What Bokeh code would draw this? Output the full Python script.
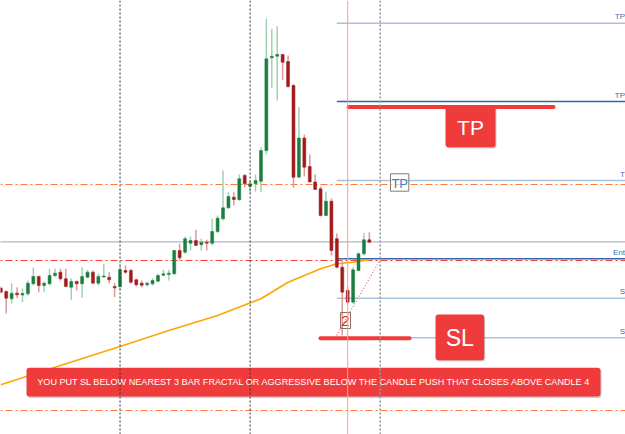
from bokeh.plotting import figure
from bokeh.models import Range1d, Span, ColumnDataSource
from bokeh.core.properties import value
from bokeh.embed import file_html
from bokeh.resources import INLINE

# ---------------- data (price units, bar index on x) ----------------
opens  = [146.3, 143.0, 135.7, 141.3, 139.5, 140.7, 150.7, 158.0, 149.0, 150.7,
          159.0, 162.3, 155.7, 147.3, 153.0, 150.7, 157.3, 162.3, 151.3, 157.5,
          157.3, 148.0, 148.0, 164.0, 164.0, 154.7, 151.3, 149.7, 150.7, 153.3,
          159.3, 160.0, 160.7, 184.0, 182.3, 191.3, 194.0, 189.7, 192.3, 191.3,
          203.0, 215.7, 226.7, 237.3, 234.7, 259.0, 248.0, 250.7, 253.3, 284.0,
          376.7, 378.3, 380.0, 373.0, 349.0, 257.3, 296.5, 268.0, 252.5, 245.7,
          219.0, 233.3, 195.7, 167.3, 144.0, 132.3, 164.0, 180.7, 194.7]
highs  = [148.0, 144.0, 151.3, 147.3, 146.0, 154.0, 167.0, 159.0, 153.0, 165.7,
          165.7, 165.7, 165.7, 156.0, 154.0, 167.3, 164.7, 164.0, 160.7, 170.7,
          162.3, 151.3, 169.0, 169.0, 165.7, 155.7, 154.0, 153.0, 156.3, 160.7,
          164.7, 164.7, 184.7, 190.7, 198.0, 198.0, 204.7, 195.7, 194.7, 215.7,
          219.0, 264.0, 242.3, 242.3, 260.0, 260.7, 254.7, 260.0, 287.3, 415.7,
          405.7, 408.3, 380.0, 379.0, 350.7, 327.3, 300.0, 280.0, 260.0, 248.0,
          243.0, 236.0, 201.0, 176.0, 147.3, 167.3, 182.3, 201.3, 202.3]
lows   = [141.0, 121.0, 131.0, 136.3, 132.3, 139.0, 149.0, 142.3, 142.3, 149.0,
          157.3, 154.0, 147.3, 134.7, 144.0, 136.7, 156.3, 150.7, 149.0, 156.7,
          151.3, 137.3, 144.7, 160.7, 150.7, 148.0, 147.3, 148.0, 149.0, 152.3,
          158.0, 154.0, 160.0, 174.0, 180.7, 184.0, 189.0, 184.0, 184.0, 189.0,
          201.3, 214.0, 225.7, 229.0, 234.0, 247.3, 241.3, 243.0, 242.3, 280.0,
          346.7, 334.0, 354.7, 346.7, 246.7, 257.3, 258.0, 252.3, 245.0, 218.0,
          219.0, 179.0, 166.0, 99.0, 131.0, 130.7, 163.3, 179.0, 192.3]
closes = [142.3, 136.3, 141.3, 139.7, 141.0, 151.3, 158.0, 149.0, 151.3, 159.0,
          161.3, 155.7, 148.0, 153.0, 150.7, 158.0, 162.3, 151.3, 158.0, 158.5,
          154.7, 146.7, 164.7, 162.3, 152.3, 149.7, 149.3, 151.3, 154.0, 159.0,
          160.7, 161.3, 184.0, 176.7, 195.7, 194.0, 189.0, 192.3, 191.3, 203.0,
          216.3, 226.7, 238.0, 235.0, 255.7, 250.7, 250.7, 254.0, 284.0, 375.7,
          378.3, 380.0, 372.3, 348.0, 257.3, 296.5, 267.3, 252.5, 245.0, 219.0,
          233.3, 184.0, 167.3, 142.3, 132.3, 164.7, 180.7, 194.7, 192.3]

# moving average, read at a few bars
ema_bars   = [0, 10, 22, 31, 40, 48, 53, 56, 59, 62, 65, 68]
ema_values = [49.7, 67.3, 88.0, 104.0, 119.0, 135.7, 152.3, 159.0, 165.7, 170.7, 172.3, 174.7]

# levels
tp_levels    = [411.3, 333.0, 254.0]
tp_labels    = ["TP", "TP", "T"]
entry_level  = 175.7
entry_label  = "Ent"
sl_levels    = [136.3, 96.7]
sl_labels    = ["S", "S"]
orange_levels = [250.0, 24.0]
red_level    = 174.0
gray_level   = 192.7
session_bars = [22, 46]
current_bar  = 64
future_bar   = 70
trade_start  = 62

note = "YOU PUT SL BELOW NEAREST 3 BAR FRACTAL OR AGGRESSIVE BELOW THE CANDLE PUSH THAT CLOSES ABOVE CANDLE 4"

# ---------------- helpers (pixel layout -> data) ----------------
W, H = 625, 434
X0, DX = 0.3, 5.42
def bx(px):
    return (px - X0) / DX
def py(pix):
    return H - pix

FONT = value("Liberation Sans")
RED = "#ef3b3b"

p = figure(width=W, height=H, output_backend="svg", toolbar_location=None,
           x_axis_type=None, y_axis_type=None, min_border=0,
           x_range=Range1d(bx(0), bx(W)), y_range=Range1d(0, H))
p.outline_line_color = None
p.background_fill_color = "white"
p.border_fill_color = "white"

XEND = bx(W + 40)

# horizontal full-width levels
for lv in orange_levels:
    p.segment(x0=[bx(-10)], y0=[lv], x1=[XEND], y1=[lv], line_color="#ff7a3d",
              line_width=1.2, line_dash="7 3 2 3")
p.segment(x0=[bx(-10)], y0=[red_level], x1=[XEND], y1=[red_level], line_color="#ff3b3b",
          line_width=1.2, line_dash="7 3 2 3")
p.segment(x0=[bx(-10)], y0=[gray_level], x1=[XEND], y1=[gray_level], line_color="#b0b8c4",
          line_width=1.2)

# vertical lines
for b in session_bars:
    p.add_layout(Span(location=b, dimension="height", line_color="#333333",
                      line_width=1, line_dash="2 2"))
p.add_layout(Span(location=current_bar, dimension="height", line_color="#ffa07a", line_width=1))
p.add_layout(Span(location=future_bar, dimension="height", line_color="#999999",
                  line_width=1.6, line_dash="2 2"))

# trade levels
tp_colors = ["#a9c3dc", "#2f68a5", "#a9c3dc"]
for lv, c in zip(tp_levels, tp_colors):
    p.segment(x0=[trade_start], y0=[lv], x1=[XEND], y1=[lv], line_color=c, line_width=1.5)
p.segment(x0=[trade_start], y0=[entry_level], x1=[XEND], y1=[entry_level],
          line_color="#2f68a5", line_width=1.5)
for lv in sl_levels:
    p.segment(x0=[trade_start], y0=[lv], x1=[XEND], y1=[lv], line_color="#a9c3dc", line_width=1.5)

# right-edge labels
lab_y = [v + 2 for v in tp_levels] + [entry_level + 2] + [v + 2 for v in sl_levels]
lab_t = tp_labels + [entry_label] + sl_labels
p.text(x=[bx(624.5)] * len(lab_t), y=lab_y, text=lab_t, text_font=FONT, text_font_size="8px",
       text_color="#3b6fb0", text_baseline="bottom", text_align="right")

# moving average
p.line(ema_bars, ema_values, line_color="#ffa500", line_width=1.6)

# candles
idx = list(range(len(opens)))
up = [c >= o for o, c in zip(opens, closes)]
src = ColumnDataSource(dict(
    x=idx, hi=highs, lo=lows,
    top=[max(o, c) for o, c in zip(opens, closes)],
    bot=[min(o, c) for o, c in zip(opens, closes)],
    wick=["#9fd1b1" if u else "#d99a9a" for u in up],
    body=["#1b7d40" if u else "#a31b1b" for u in up],
))
p.segment(x0="x", y0="lo", x1="x", y1="hi", line_color="wick", line_width=1.5, source=src)
p.vbar(x="x", width=0.55, top="top", bottom="bot", fill_color="body", line_color="body",
       line_width=0.5, source=src)

# dotted red projection
p.segment(x0=[bx(336)], y0=[py(335)], x1=[bx(379.3)], y1=[py(260)], line_color="#f06a6a",
          line_width=1.2, line_dash="1 2")

# fractal "2" label
p.quad(left=[bx(340)], right=[bx(350)], top=[py(312)], bottom=[py(328)],
       fill_color=None, line_color="#8a6e5e", line_width=1)
p.text(x=[bx(345)], y=[py(320.5)], text=["2"], text_font=FONT, text_font_size="15px",
       text_color="#e8202a", text_align="center", text_baseline="middle")

# small TP label
p.quad(left=[bx(390)], right=[bx(408.3)], top=[py(173.3)], bottom=[py(190.7)],
       fill_color="white", fill_alpha=0.6, line_color="#8a7a6a", line_width=1)
p.text(x=[bx(399.2)], y=[py(182.5)], text=["TP"], text_font=FONT, text_font_size="13px",
       text_color="#3a80d0", text_align="center", text_baseline="middle")

# thick red markers
p.segment(x0=[bx(348)], y0=[py(106.5)], x1=[bx(553)], y1=[py(106.5)], line_color=RED,
          line_width=4, line_cap="round")
p.segment(x0=[bx(320)], y0=[py(337.7)], x1=[bx(409)], y1=[py(337.7)], line_color=RED,
          line_width=4, line_cap="round")

# TP box
p.quad(left=[bx(446)], right=[bx(496)], top=[py(107.5)], bottom=[py(148)],
       fill_color="#9a9a9a", fill_alpha=0.5, line_color=None, border_radius=3)
p.quad(left=[bx(445)], right=[bx(495)], top=[py(106)], bottom=[py(146.7)],
       fill_color=RED, line_color=None, border_radius=3)
p.text(x=[bx(470)], y=[py(126.5)], text=["TP"], text_font=FONT, text_font_size="21px",
       text_color="white", text_align="center", text_baseline="middle")

# SL box
p.quad(left=[bx(436)], right=[bx(484.7)], top=[py(315.5)], bottom=[py(361)],
       fill_color="#9a9a9a", fill_alpha=0.5, line_color=None, border_radius=3)
p.quad(left=[bx(435)], right=[bx(483.7)], top=[py(314)], bottom=[py(359.7)],
       fill_color=RED, line_color=None, border_radius=3)
p.text(x=[bx(459.3)], y=[py(337)], text=["SL"], text_font=FONT, text_font_size="23px",
       text_color="white", text_align="center", text_baseline="middle")

# banner
p.quad(left=[bx(27)], right=[bx(601)], top=[py(368.5)], bottom=[py(397.5)],
       fill_color="#9a9a9a", fill_alpha=0.5, line_color=None, border_radius=3)
p.quad(left=[bx(26)], right=[bx(600)], top=[py(367.3)], bottom=[py(396)],
       fill_color=RED, line_color=None, border_radius=3)
p.text(x=[bx(314)], y=[py(381.7)], text=[note], text_font=FONT, text_font_size="9.1px",
       text_color="white", text_align="center", text_baseline="middle")

open("out.html", "w").write(file_html(p, INLINE))
